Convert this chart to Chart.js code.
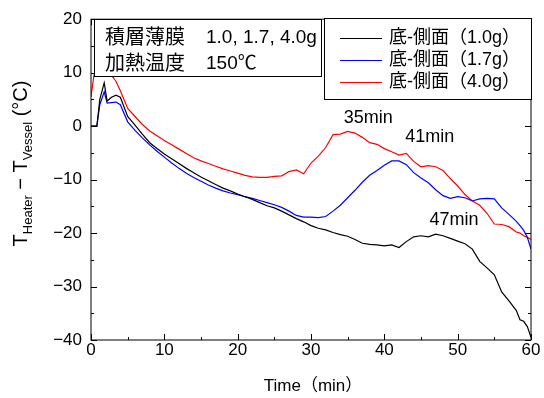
<!DOCTYPE html>
<html>
<head>
<meta charset="utf-8">
<script src="https://cdn.jsdelivr.net/npm/chart.js@4.4.1/dist/chart.umd.min.js"></script>
<style>
  html, body { margin: 0; padding: 0; background: #fff; }
  #wrap { width: 544px; height: 398px; position: relative; }
</style>
</head>
<body>
<div id="wrap"><canvas id="c"></canvas></div>
<script>
const FONT = '"Liberation Sans", "Noto Sans CJK JP", sans-serif';

// time axis (min)
const timeMin = [0, 0.4, 0.8, 1.2, 1.8, 2.2, 2.8, 3.4, 4,
  5, 6, 7, 8, 9, 10, 11, 12, 13, 14, 15, 16, 17, 18, 19, 20, 21, 22, 23, 24, 25, 26, 27, 28, 29,
  30, 31, 32, 33, 34, 35, 36, 37, 38, 39, 40, 41, 42, 43, 44, 45, 46, 47, 48, 49, 50, 51, 52, 53,
  54, 55, 56, 57, 58, 58.5, 59, 59.5, 60];

// T_Heater - T_Vessel (°C)
const side10 = [0, 0, 0, 5.0, 8.1, 4.7, 5.4, 5.8, 5.4,
  1.8, 0.2, -1.5, -3.1, -4.2, -5.2, -6.1, -7.0, -7.9, -8.7, -9.5, -10.2, -10.9, -11.6, -12.1, -12.7,
  -13.2, -13.7, -14.3, -14.9, -15.3, -15.9, -16.6, -17.3, -17.9, -18.6, -19.1, -19.4, -19.9, -20.3,
  -20.6, -21.2, -21.9, -22.1, -22.2, -22.4, -22.2, -22.7, -21.6, -20.7, -20.5, -20.7, -20.2, -20.5,
  -21.0, -21.5, -22.0, -23.0, -25.3, -26.5, -27.8, -31.0, -32.7, -34.5, -36.2, -36.5, -37.5, -39.5];
const side17 = [0, 0, 0, 4.0, 6.4, 4.3, 4.4, 4.5, 4.0,
  0.8, -0.8, -2.2, -3.5, -4.7, -5.8, -6.9, -7.9, -8.8, -9.6, -10.3, -11.0, -11.6, -12.1, -12.5, -12.8,
  -13.2, -13.5, -13.9, -14.3, -14.7, -15.2, -15.9, -16.7, -17.0, -17.0, -17.1, -16.9, -15.9, -14.8,
  -13.4, -12.0, -10.5, -9.2, -8.3, -7.3, -6.5, -6.5, -7.2, -8.7, -9.7, -10.6, -11.9, -13.0,
  -13.5, -13.2, -13.4, -14.0, -13.6, -13.5, -13.6, -15.3, -16.5, -17.8, -18.6, -19.5, -20.8, -23.0];
const side40 = [5.5, 9.5, 10.0, 10.0, 10.0, 9.8, 9.5, 8.4, 6.6,
  3.3, 1.8, 0.3, -0.9, -1.8, -2.7, -3.5, -4.3, -5.1, -5.9, -6.5, -7.0, -7.5, -8.0, -8.4, -8.8,
  -9.2, -9.5, -9.6, -9.6, -9.4, -9.3, -8.5, -8.2, -8.9, -6.9, -5.6, -4.0, -1.6, -1.5,
  -1.0, -1.3, -2.1, -3.1, -3.4, -4.2, -4.8, -5.4, -5.1, -6.6, -7.6, -7.4, -7.6, -8.3,
  -9.8, -11.2, -12.8, -14.0, -14.8, -16.3, -18.3, -18.4, -18.8, -19.8, -20.0, -20.5, -20.8, -21.2];

const seriesLabels = ['底-側面（1.0g）', '底-側面（1.7g）', '底-側面（4.0g）'];
const seriesColors = ['#000000', '#0000ff', '#ff0000'];

// peak annotations (data coords of text centre)
const peakText = ['35min', '41min', '47min'];
const peakX = [37.8, 46.2, 49.5];
const peakY = [1.6, -2.1, -17.5];

const infoLines = [['積層薄膜', '1.0, 1.7, 4.0g'], ['加熱温度', '150℃']];

const toXY = ys => timeMin.map((t, i) => ({ x: t, y: ys[i] }));

const overlay = {
  id: 'overlay',
  afterDatasetsDraw(chart) {
    const { ctx, chartArea: a, scales: { x, y } } = chart;
    ctx.save();
    ctx.strokeStyle = '#000';
    ctx.lineWidth = 1;

    // frame
    ctx.strokeRect(a.left, a.top, a.right - a.left, a.bottom - a.top);

    // inward ticks on all four sides
    ctx.beginPath();
    for (let v = 0; v <= 60; v += 5) {
      const px = Math.round(x.getPixelForValue(v)) + 0.5;
      const len = v % 10 === 0 ? 6 : 3;
      ctx.moveTo(px, a.bottom); ctx.lineTo(px, a.bottom - len);
      ctx.moveTo(px, a.top); ctx.lineTo(px, a.top + len);
    }
    for (let v = -40; v <= 20; v += 5) {
      const py = Math.round(y.getPixelForValue(v)) + 0.5;
      const len = v % 10 === 0 ? 6 : 3;
      ctx.moveTo(a.left, py); ctx.lineTo(a.left + len, py);
      ctx.moveTo(a.right, py); ctx.lineTo(a.right - len, py);
    }
    ctx.stroke();

    // info box
    ctx.fillStyle = '#fff';
    ctx.fillRect(95, 20, 227, 57);
    ctx.strokeRect(94.5, 19.5, 227, 57);
    ctx.fillStyle = '#000';
    ctx.textBaseline = 'middle';
    infoLines.forEach((ln, i) => {
      const ty = 38 + i * 26;
      ctx.font = '20px ' + FONT;
      ctx.fillText(ln[0], 105, ty);
      ctx.font = '19px ' + FONT;
      ctx.fillText(ln[1], 206, ty);
    });

    // legend box
    ctx.fillStyle = '#fff';
    ctx.fillRect(325, 19, 207, 81);
    ctx.strokeRect(324.5, 18.5, 207, 81);
    ctx.font = '18px ' + FONT;
    chart.data.datasets.forEach((ds, i) => {
      const ry = 38.5 + i * 22;
      ctx.strokeStyle = ds.borderColor;
      ctx.beginPath();
      ctx.moveTo(340, ry); ctx.lineTo(382, ry);
      ctx.stroke();
      ctx.fillStyle = '#000';
      ctx.fillText(ds.label, 389, ry);
    });

    // peak labels
    ctx.font = '18px ' + FONT;
    ctx.textAlign = 'center';
    peakText.forEach((t, i) => {
      ctx.fillText(t, x.getPixelForValue(peakX[i]), y.getPixelForValue(peakY[i]));
    });

    // x title
    ctx.font = '17px ' + FONT;
    ctx.fillText('Time（min）', 313, 386);

    // y title with subscripts
    ctx.textAlign = 'left';
    ctx.textBaseline = 'alphabetic';
    const parts = [['T', 20, 0], ['Heater', 13, 5], [' − ', 20, 0], ['T', 20, 0], ['Vessel', 13, 5], [' (°C)', 20, 0]];
    let total = 0;
    parts.forEach(p => { ctx.font = p[1] + 'px ' + FONT; total += ctx.measureText(p[0]).width; });
    ctx.translate(20, 163.5);
    ctx.rotate(-Math.PI / 2);
    let cx = -total / 2;
    parts.forEach(p => {
      ctx.font = p[1] + 'px ' + FONT;
      ctx.fillText(p[0], cx, 7 + p[2]);
      cx += ctx.measureText(p[0]).width;
    });
    ctx.restore();
  }
};

new Chart(document.getElementById('c'), {
  type: 'line',
  data: {
    datasets: [side10, side17, side40].map((ys, i) => ({
      label: seriesLabels[i],
      data: toXY(ys),
      borderColor: seriesColors[i],
      borderWidth: 1.2,
      pointRadius: 0,
      tension: 0,
      fill: false
    }))
  },
  options: {
    responsive: true,
    maintainAspectRatio: false,
    animation: false,
    layout: { padding: { top: 17, right: 13, left: 0, bottom: 0 } },
    plugins: { legend: { display: false }, tooltip: { enabled: false } },
    scales: {
      x: {
        type: 'linear', min: 0, max: 60,
        ticks: { stepSize: 10, color: '#000', font: { size: 17, family: FONT }, padding: 0, maxRotation: 0 },
        grid: { drawOnChartArea: false, drawTicks: false },
        border: { display: false },
        afterFit: s => { s.height = 58; }
      },
      y: {
        min: -40, max: 20,
        ticks: {
          stepSize: 10, color: '#000', font: { size: 17, family: FONT }, padding: 9,
          callback: v => String(v).replace('-', '−')
        },
        grid: { drawOnChartArea: false, drawTicks: false },
        border: { display: false },
        afterFit: s => { s.width = 91; }
      }
    }
  },
  plugins: [overlay]
});
</script>
</body>
</html>
